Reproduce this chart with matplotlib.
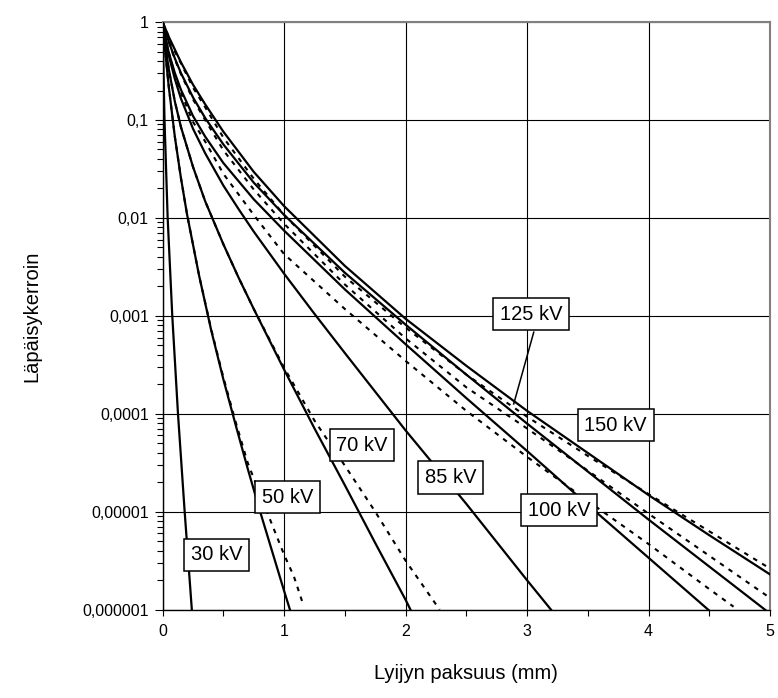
import numpy as np
import matplotlib
matplotlib.use("Agg")
import matplotlib.pyplot as plt
from matplotlib.ticker import LogLocator, NullFormatter

plt.rcParams['font.family'] = ['Liberation Sans', 'DejaVu Sans']

# lead thickness (mm) and log10 of transmission; "d" = dashed companion curve
x_30 = [0, 0.0035, 0.015, 0.041, 0.079, 0.126, 0.181, 0.24]
t_30 = [0, -0.3, -1, -2, -3, -4, -5, -6]

x_50 = [0, 0.02, 0.05, 0.1, 0.15, 0.2, 0.3, 0.4, 0.5, 0.6, 0.7, 0.8, 0.9, 1.0, 1.05]
t_50 = [0, -0.29, -0.66, -1.17, -1.59, -1.96, -2.59, -3.15, -3.65, -4.11, -4.56, -4.99, -5.40, -5.81, -6.01]
x_50d = [0, 0.02, 0.05, 0.1, 0.15, 0.2, 0.3, 0.4, 0.5, 0.6, 0.7, 0.8, 0.9, 1.0, 1.08, 1.16]
t_50d = [0, -0.29, -0.66, -1.17, -1.59, -1.96, -2.59, -3.14, -3.63, -4.08, -4.5, -4.82, -5.13, -5.44, -5.66, -5.96]

x_70 = [0, 0.02, 0.05, 0.1, 0.15, 0.25, 0.35, 0.5, 0.625, 0.75, 1.0, 1.25, 1.5, 1.75, 2.0, 2.04]
t_70 = [0, -0.22, -0.48, -0.81, -1.07, -1.48, -1.83, -2.27, -2.61, -2.93, -3.55, -4.15, -4.73, -5.32, -5.9, -6.0]
x_70d = [0, 0.02, 0.05, 0.1, 0.15, 0.25, 0.35, 0.5, 0.625, 0.75, 1.0, 1.25, 1.5, 1.75, 2.0, 2.28]
t_70d = [0, -0.22, -0.48, -0.81, -1.07, -1.48, -1.83, -2.27, -2.61, -2.93, -3.53, -4.07, -4.53, -5.0, -5.5, -6.0]

x_85 = [0, 0.02, 0.05, 0.1, 0.15, 0.25, 0.35, 0.5, 0.625, 0.75, 1.0, 1.25, 1.5, 2.0, 2.5, 3.0, 3.21]
t_85 = [0, -0.15, -0.34, -0.58, -0.78, -1.09, -1.34, -1.67, -1.91, -2.14, -2.57, -2.98, -3.38, -4.17, -4.92, -5.7, -6.02]

x_100 = [0, 0.02, 0.05, 0.1, 0.15, 0.25, 0.35, 0.5, 0.75, 1.0, 1.5, 2.0, 2.5, 3.0, 3.5, 4.0, 4.5]
t_100 = [0, -0.14, -0.31, -0.52, -0.69, -0.96, -1.17, -1.44, -1.81, -2.13, -2.73, -3.29, -3.84, -4.38, -4.93, -5.47, -6.01]
x_100d = [0, 0.02, 0.05, 0.1, 0.15, 0.25, 0.35, 0.5, 0.75, 1.0, 1.5, 2.0, 2.5, 3.0, 3.5, 4.0, 4.5, 4.7]
t_100d = [0, -0.14, -0.31, -0.54, -0.72, -1.02, -1.22, -1.55, -1.97, -2.37, -2.93, -3.46, -3.97, -4.44, -4.89, -5.33, -5.79, -5.97]

x_125 = [0, 0.02, 0.05, 0.1, 0.15, 0.25, 0.35, 0.5, 0.75, 1.0, 1.5, 2.0, 2.5, 3.0, 3.5, 4.0, 4.5, 5.0]
t_125 = [0, -0.08, -0.2, -0.37, -0.52, -0.77, -0.98, -1.25, -1.64, -1.97, -2.56, -3.09, -3.6, -4.1, -4.59, -5.08, -5.56, -6.04]
t_125d = [0, -0.08, -0.2, -0.38, -0.53, -0.79, -1.0, -1.31, -1.71, -2.06, -2.68, -3.23, -3.73, -4.15, -4.58, -5.02, -5.45, -5.88]

x_150 = [0, 0.02, 0.05, 0.1, 0.15, 0.25, 0.35, 0.5, 0.75, 1.0, 1.5, 2.0, 2.5, 3.0, 3.5, 4.0, 4.5, 5.0]
t_150 = [0, -0.06, -0.15, -0.28, -0.41, -0.64, -0.84, -1.12, -1.53, -1.88, -2.49, -3.03, -3.51, -3.97, -4.4, -4.83, -5.24, -5.64]
t_150d = [0, -0.06, -0.15, -0.3, -0.42, -0.67, -0.87, -1.18, -1.6, -1.97, -2.6, -3.12, -3.6, -4.03, -4.43, -4.82, -5.2, -5.58]

kv_labels = ['30 kV', '50 kV', '70 kV', '85 kV', '100 kV', '125 kV', '150 kV']
y_ticks = [1e-6, 1e-5, 1e-4, 1e-3, 1e-2, 1e-1, 1]
y_ticklabels = ['0,000001', '0,00001', '0,0001', '0,001', '0,01', '0,1', '1']
x_ticks = [0, 1, 2, 3, 4, 5]

# where the label boxes sit (x in mm, log10 of y)
label_pos = [(0.445, -5.44), (1.029, -4.85), (1.64, -4.32), (2.37, -4.65),
             (3.263, -4.985), (3.034, -2.984), (3.73, -4.117)]

solid = [(x_30, t_30), (x_50, t_50), (x_70, t_70), (x_85, t_85),
         (x_100, t_100), (x_125, t_125), (x_150, t_150)]
dashed = [(x_50d, t_50d), (x_70d, t_70d), (x_100d, t_100d),
          (x_125, t_125d), (x_150, t_150d)]

fig = plt.figure(figsize=(7.78, 6.98), dpi=100)
ax = fig.add_axes([0.2091, 0.1266, 0.7806, 0.8418])
ax.set_yscale('log')

for xs, ts in solid:
    ax.plot(xs, 10.0 ** np.array(ts), color='black', lw=1.6, zorder=3)
for xs, ts in dashed:
    ax.plot(xs, 10.0 ** np.array(ts), color='black', lw=1.5,
            ls=(0, (2.2, 2.8)), zorder=3)

ax.set_xlim(0, 5)
ax.set_ylim(1e-6, 1)

ax.set_xticks(x_ticks)
ax.set_xticks(np.arange(0.5, 5, 1.0), minor=True)
ax.set_yticks(y_ticks)
ax.set_yticklabels(y_ticklabels)
ax.yaxis.set_minor_locator(LogLocator(base=10, subs=np.arange(2, 10)))
ax.yaxis.set_minor_formatter(NullFormatter())

ax.tick_params(axis='x', which='both', direction='out', length=4, width=0.8,
               pad=6, labelsize=11.5)
ax.tick_params(axis='y', which='major', direction='out', length=5.5, width=0.8,
               pad=4.5, labelsize=11.5)
ax.tick_params(axis='y', which='minor', direction='out', length=4, width=0.8)

ax.grid(True, which='major', color='black', lw=0.8)
ax.set_axisbelow(True)

for side in ['top', 'right']:
    ax.spines[side].set_color('#808080')
    ax.spines[side].set_linewidth(1.5)
for side in ['left', 'bottom']:
    ax.spines[side].set_color('black')
    ax.spines[side].set_linewidth(1.0)

ax.set_xlabel('Lyijyn paksuus (mm)', fontsize=14.5)
ax.set_ylabel('Läpäisykerroin', fontsize=14.5)
ax.xaxis.set_label_coords(0.5, -0.093)
ax.yaxis.set_label_coords(-0.2, 0.5)

# leader from the 125 kV box down to its curve
ax.plot([3.055, 2.89], [10 ** -3.167, 10 ** -3.90], color='black', lw=1.1,
        zorder=4)

for lab, (lx, ly) in zip(kv_labels, label_pos):
    ax.text(lx, 10 ** ly, lab, fontsize=14.5, ha='center', va='center',
            zorder=5,
            bbox=dict(boxstyle='square,pad=0.33', fc='white', ec='black',
                      lw=1.1))

fig.savefig('out.png', dpi=100)
